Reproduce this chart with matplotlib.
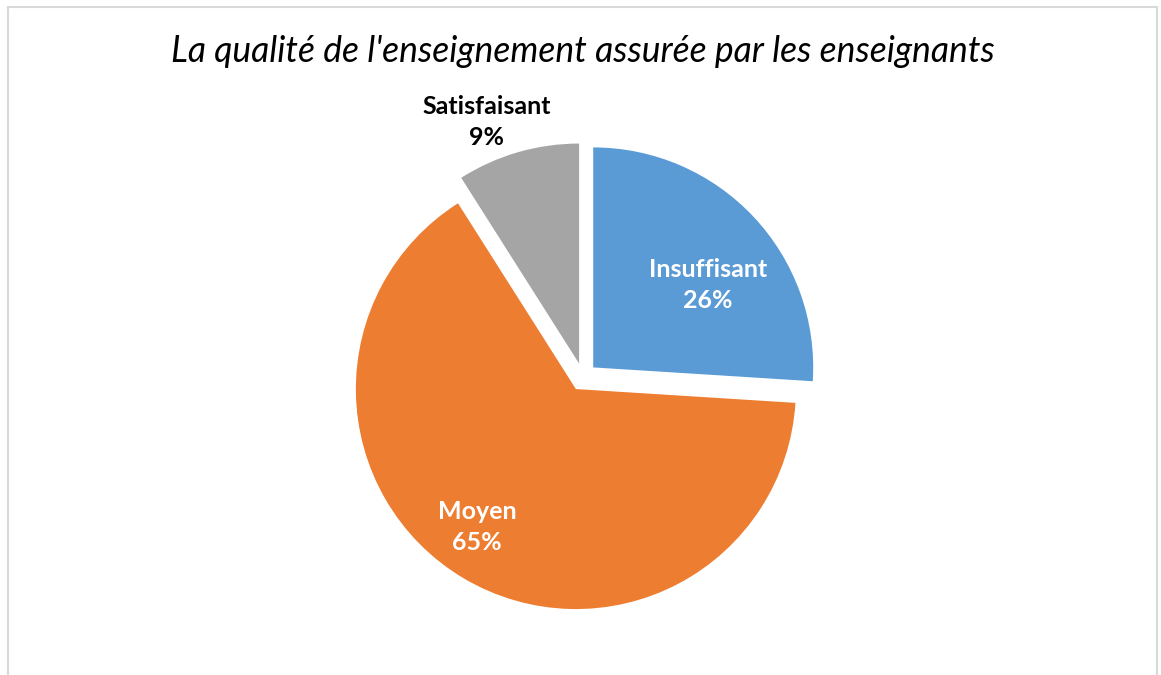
import matplotlib.pyplot as plt
from matplotlib.patches import Rectangle

W, H = 1161, 675

categories = ["Insuffisant", "Moyen", "Satisfaisant"]
shares = [26, 65, 9]
colors = ["#5B9BD5", "#ED7D31", "#A5A5A5"]
label_colors = ["white", "white", "black"]
title = "La qualité de l'enseignement assurée par les enseignants"

# label anchor points in pixel coords (x, y from top)
label_pos = [(708, 285), (477, 527), (487, 122)]

plt.rcParams["font.family"] = ["Lato", "DejaVu Sans"]

fig = plt.figure(figsize=(W / 100, H / 100), dpi=100)
ax = fig.add_axes([0, 0, 1, 1])

radius = 220
# explode is in data units here (pixels), not a fraction of the radius
ax.pie(
    shares,
    colors=colors,
    startangle=90,
    counterclock=False,
    explode=[14] * len(shares),
    radius=radius,
    center=(583, H - 377),
    frame=True,
)
ax.set_xlim(0, W)
ax.set_ylim(0, H)
ax.set_aspect("equal")
ax.axis("off")

for cat, val, col, (x, y) in zip(categories, shares, label_colors, label_pos):
    ax.text(x, H - y, f"{cat}\n{val}%", ha="center", va="center", color=col,
            fontsize=18, fontweight="bold", linespacing=1.38)

ax.text(583, H - 51, title, ha="center", va="center", fontsize=25.6, style="italic")

ax.add_patch(Rectangle((8, -5), 1149, H - 7 + 5, fill=False, edgecolor="#D9D9D9", lw=1.5))

fig.savefig("out.png", dpi=100)
